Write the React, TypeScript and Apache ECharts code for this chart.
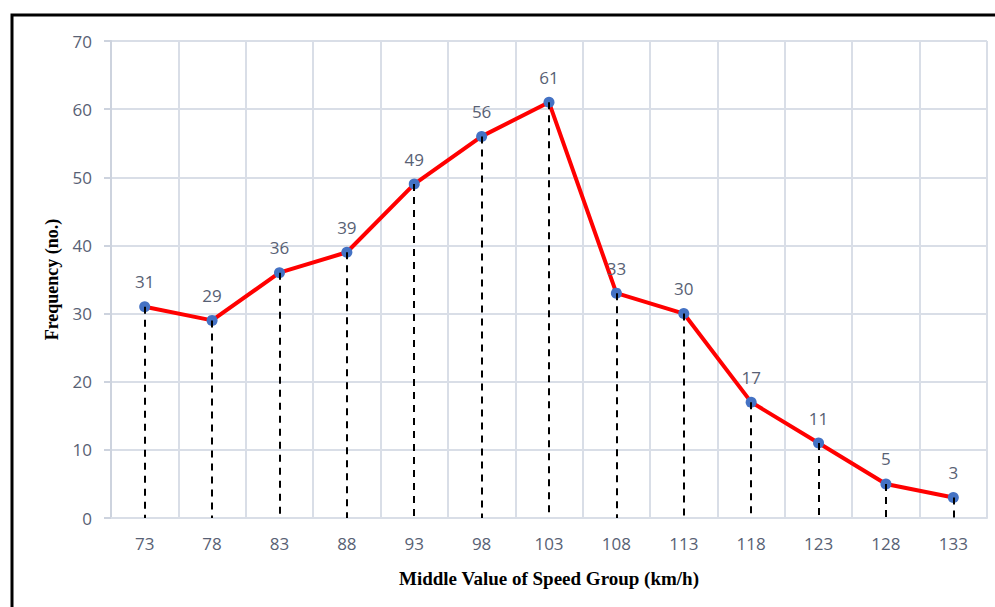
import React, { useEffect, useRef } from "react";
import * as echarts from "echarts";

const categories = ["73", "78", "83", "88", "93", "98", "103", "108", "113", "118", "123", "128", "133"];
const frequency = [31, 29, 36, 39, 49, 56, 61, 33, 30, 17, 11, 5, 3];
const yTitle = "Frequency (no.)";
const xTitle = "Middle Value of Speed Group (km/h)";

export default function App() {
  const ref = useRef<HTMLDivElement>(null);
  useEffect(() => {
    if (!ref.current) return;
    const chart = echarts.init(ref.current, null, { renderer: "svg" });
    const labelColor = "#586174";
    const gridColor = "#d9dee7";
    chart.setOption({
      animation: false,
      backgroundColor: "#ffffff",
      graphic: [
        {
          type: "rect",
          shape: { x: 12, y: 15, width: 1100, height: 700 },
          style: { fill: "none", stroke: "#000", lineWidth: 3 },
          z: 100,
        },
      ],
      grid: { left: 111, top: 41, right: 8, bottom: 89 },
      xAxis: {
        type: "category",
        data: categories,
        boundaryGap: true,
        name: xTitle,
        nameLocation: "middle",
        nameGap: 51,
        nameTextStyle: { fontFamily: "Liberation Serif", fontWeight: "bold", fontSize: 19, color: "#000" },
        axisLine: { show: true, lineStyle: { color: gridColor, width: 2 } },
        axisTick: { show: false },
        splitLine: { show: true, interval: 0, lineStyle: { color: gridColor, width: 2 } },
        axisLabel: { color: labelColor, fontFamily: "Open Sans", fontSize: 17, margin: 17, interval: 0 },
      },
      yAxis: {
        type: "value",
        min: 0,
        max: 70,
        interval: 10,
        name: yTitle,
        nameLocation: "middle",
        nameGap: 50,
        nameRotate: 90,
        nameTextStyle: { fontFamily: "Liberation Serif", fontWeight: "bold", fontSize: 18, color: "#000" },
        axisLine: { show: true, lineStyle: { color: "#cdd3de", width: 2 } },
        axisTick: { show: true, length: 7, lineStyle: { color: "#cdd3de", width: 2 } },
        splitLine: { show: true, lineStyle: { color: gridColor, width: 2 } },
        axisLabel: { color: labelColor, fontFamily: "Open Sans", fontSize: 17, margin: 19 },
      },
      series: [
        {
          type: "line",
          data: frequency,
          symbol: "circle",
          symbolSize: 11,
          itemStyle: { color: "#4472C4" },
          lineStyle: { color: "#ff0000", width: 4 },
          z: 3,
          label: {
            show: true,
            position: "top",
            distance: 11,
            color: labelColor,
            fontFamily: "Open Sans",
            fontSize: 17,
          },
          markLine: {
            silent: true,
            symbol: ["none", "none"],
            label: { show: false },
            lineStyle: { color: "#000", type: [7, 6], width: 2 },
            z: 4,
            data: frequency.map((v, i) => [
              { coord: [i, v] },
              { coord: [i, 0] },
            ]),
          },
        },
      ],
    });
    return () => chart.dispose();
  }, []);
  return (
    <div
      ref={ref}
      style={{ position: "fixed", left: 0, top: 0, width: 995, height: 607 }}
    />
  );
}
